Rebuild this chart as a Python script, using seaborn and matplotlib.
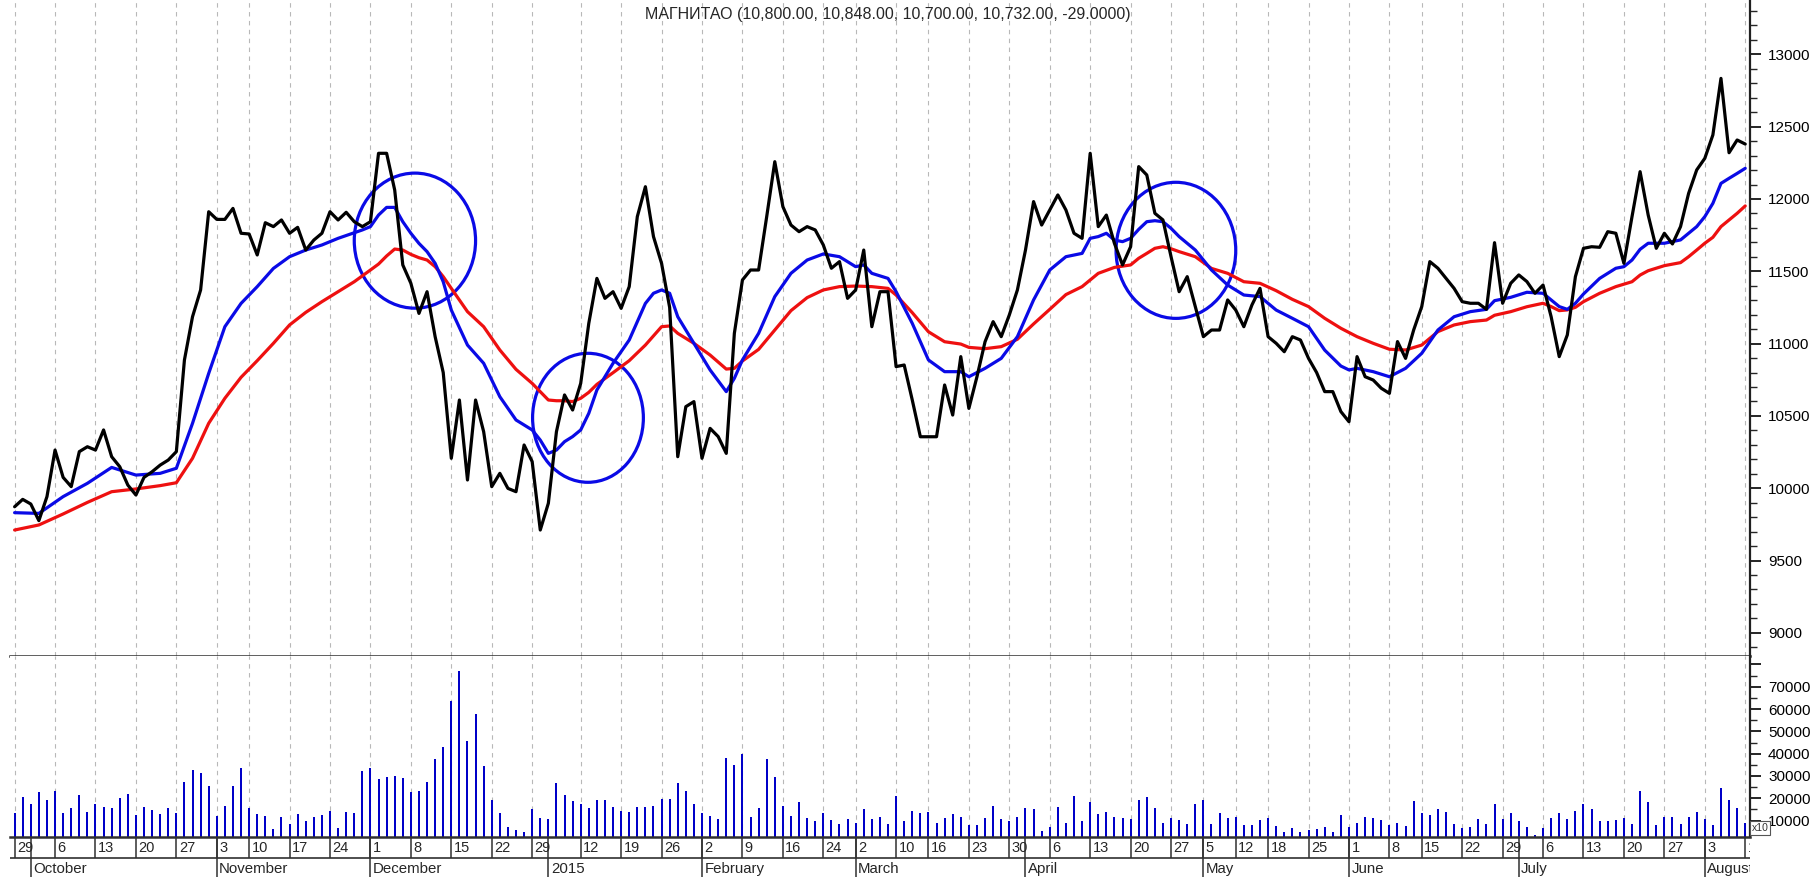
import matplotlib
matplotlib.use("Agg")
import matplotlib.pyplot as plt
from matplotlib.patches import Ellipse
from matplotlib.ticker import MultipleLocator, FuncFormatter, FixedLocator
import numpy as np
import pandas as pd
import seaborn as sns

# trading calendar (MOEX), Sep 29 2014 .. Aug 10 2015
holidays = ["2014-11-04", "2014-12-31", "2015-01-01", "2015-01-02", "2015-01-07",
            "2015-02-23", "2015-03-09", "2015-05-01", "2015-05-04", "2015-05-11",
            "2015-06-12"]
dates = pd.bdate_range("2014-09-29", "2015-08-10")
dates = dates[~dates.isin(pd.to_datetime(holidays))]

close = [9872, 9923, 9891, 9776, 9942, 10264, 10075, 10011, 10253, 10287,
         10264, 10403, 10218, 10149, 10022, 9953, 10075, 10114, 10160, 10195,
         10253, 10887, 11186, 11371, 11912, 11859, 11859, 11935, 11763, 11758,
         11613, 11836, 11809, 11855, 11763, 11804, 11647, 11716, 11763, 11912,
         11855, 11908, 11843, 11809, 11843, 12316, 12316, 12062, 11544, 11417,
         11209, 11359, 11048, 10800, 10207, 10610, 10057, 10610, 10391, 10011,
         10103, 9999, 9976, 10299, 10184, 9711, 9896, 10391, 10645, 10541,
         10725, 11140, 11451, 11313, 11359, 11244, 11394, 11878, 12085, 11740,
         11555, 11250, 10218, 10564, 10599, 10207, 10414, 10357, 10241, 11071,
         11440, 11509, 11509, 11878, 12258, 11947, 11820, 11774, 11809, 11786,
         11682, 11521, 11567, 11313, 11371, 11647, 11117, 11359, 11359, 10841,
         10852, 10610, 10356, 10356, 10356, 10714, 10506, 10910, 10552, 10771,
         11013, 11152, 11048, 11198, 11371, 11647, 11982, 11820, 11924, 12028,
         11924, 11763, 11728, 12316, 11809, 11889, 11693, 11544, 11670, 12224,
         12166, 11901, 11855, 11601, 11359, 11463, 11255, 11048, 11094, 11094,
         11302, 11232, 11117, 11267, 11382, 11048, 11002, 10944, 11048, 11025,
         10898, 10800, 10668, 10668, 10530, 10460, 10910, 10771, 10748, 10691,
         10656, 11014, 10898, 11094, 11256, 11567, 11521, 11451, 11382, 11290,
         11279, 11279, 11237, 11698, 11279, 11417, 11475, 11429, 11348, 11405,
         11186, 10910, 11060, 11463, 11659, 11670, 11666, 11774, 11763, 11555,
         11878, 12189, 11889, 11659, 11763, 11689, 11809, 12039, 12201, 12281,
         12443, 12834, 12320, 12408, 12380]

volume = [13300, 20400, 17300, 22700, 19200, 23400, 13300, 15500, 21500, 14000,
          17300, 16200, 15500, 20000, 21800, 12500, 16200, 14700, 13000, 15500,
          13500, 27400, 32700, 31200, 25600, 12200, 16700, 25600, 33700, 15500,
          12800, 12200, 6200, 11800, 8500, 12800, 10000, 11500, 12500, 14300,
          6800, 13700, 13500, 32200, 33400, 28500, 29400, 30000, 28900, 23000,
          23300, 27100, 37600, 43100, 63600, 77200, 45800, 58000, 34600, 19200,
          13500, 7000, 5800, 5000, 15000, 11000, 10600, 27000, 21500, 18900,
          17300, 15500, 19200, 19200, 16200, 14400, 14000, 16200, 16200, 16500,
          19500, 19500, 26700, 23300, 17300, 13300, 12200, 10600, 38200, 34900,
          39700, 11800, 15500, 37600, 29400, 16700, 12200, 18200, 11000, 10000,
          13500, 10300, 8500, 10600, 9100, 15000, 10600, 11500, 8500, 21200,
          10000, 14400, 13300, 14000, 9100, 11000, 12800, 11500, 7900, 8000,
          11000, 16700, 10600, 9800, 11800, 15500, 15000, 5500, 7300, 16200,
          9100, 21200, 9800, 18500, 12800, 14000, 11800, 11300, 10700, 19200,
          20400, 15500, 9100, 11000, 10300, 8300, 17300, 19200, 8500, 13300,
          11000, 11800, 8000, 8000, 10300, 11300, 7600, 4700, 6500, 5000,
          5800, 6200, 7300, 5000, 12500, 7000, 9100, 11500, 11000, 10300,
          8000, 9100, 7600, 18800, 13500, 12500, 15000, 14000, 8500, 6800,
          7000, 10600, 8500, 17400, 10600, 13300, 10000, 7300, 3500, 6800,
          11000, 13300, 10600, 14300, 17300, 15200, 10000, 10000, 10300, 11300,
          8500, 23400, 18500, 8000, 11500, 11500, 8500, 11800, 14000, 10600,
          8000, 24400, 19200, 15500, 9100]

fast_day = [0, 3, 6, 9, 12, 15, 18, 20, 22, 24, 26, 28, 30, 32, 34, 36, 38, 40, 42, 43,
            44, 45, 46, 47, 48, 49, 50, 51, 52, 53, 54, 56, 58, 60, 62, 64, 65, 66, 67, 68,
            69, 70, 71, 72, 74, 76, 78, 79, 80, 81, 82, 84, 86, 88, 89, 90, 92, 94, 96, 98,
            100, 102, 104, 105, 106, 108, 109, 111, 113, 115, 117, 118, 120, 122, 124, 126,
            128, 130, 132, 133, 134, 135, 136, 137, 138, 139, 140, 141, 142, 143, 144, 146,
            148, 150, 152, 154, 156, 158, 160, 162, 164, 165, 166, 168, 170, 172, 174, 176,
            178, 180, 182, 183, 185, 187, 189, 190, 191, 192, 193, 194, 196, 198, 199, 200,
            201, 202, 204, 206, 207, 208, 209, 210, 211, 212, 213, 214]
fast_ma = [9831, 9826, 9942, 10034, 10144, 10091, 10103, 10138, 10449, 10794, 11117,
           11278, 11394, 11520, 11601, 11647, 11682, 11728, 11767, 11786, 11809, 11889,
           11942, 11942, 11843, 11763, 11693, 11636, 11555, 11428, 11232, 10990, 10864,
           10633, 10472, 10403, 10333, 10241, 10264, 10322, 10357, 10403, 10518, 10679,
           10864, 11025, 11278, 11348, 11371, 11348, 11186, 11002, 10818, 10668, 10760,
           10887, 11071, 11325, 11486, 11578, 11620, 11601, 11532, 11544, 11486, 11451,
           11359, 11140, 10887, 10806, 10806, 10771, 10829, 10898, 11048, 11302, 11509,
           11601, 11624, 11728, 11740, 11763, 11716, 11705, 11728, 11790, 11843, 11850,
           11843, 11797, 11740, 11647, 11509, 11405, 11336, 11325, 11232, 11175, 11117,
           10955, 10845, 10818, 10829, 10806, 10771, 10829, 10933, 11094, 11186, 11221,
           11237, 11297, 11320, 11355, 11348, 11302, 11256, 11237, 11279, 11343, 11451,
           11521, 11532, 11578, 11652, 11694, 11694, 11717, 11763, 11809, 11878, 11970,
           12108, 12143, 12177, 12212]

slow_day = [0, 3, 6, 9, 12, 15, 18, 20, 22, 24, 26, 28, 30, 32, 34, 36, 38, 40, 42, 44,
            45, 46, 47, 48, 49, 50, 51, 52, 53, 54, 56, 58, 60, 62, 64, 66, 67, 68, 69, 70,
            71, 72, 74, 76, 78, 80, 81, 82, 84, 86, 88, 89, 90, 92, 94, 96, 98, 100, 102,
            104, 106, 108, 109, 111, 113, 115, 117, 118, 120, 122, 124, 126, 128, 130, 132,
            134, 136, 138, 139, 140, 141, 142, 143, 144, 146, 148, 150, 152, 154, 156, 158,
            160, 162, 164, 166, 168, 170, 172, 174, 176, 178, 180, 182, 183, 185, 187, 189,
            190, 191, 192, 193, 194, 196, 198, 200, 201, 202, 204, 206, 207, 208, 209, 210,
            211, 212, 213, 214]
slow_ma = [9711, 9746, 9822, 9902, 9976, 9995, 10018, 10038, 10207, 10449, 10622, 10767,
           10882, 11002, 11129, 11216, 11290, 11359, 11428, 11509, 11550, 11606, 11654,
           11647, 11617, 11594, 11578, 11532, 11463, 11382, 11221, 11117, 10956, 10822,
           10725, 10610, 10605, 10605, 10599, 10622, 10663, 10718, 10799, 10882, 10990,
           11117, 11122, 11071, 11002, 10921, 10824, 10829, 10880, 10960, 11094, 11228,
           11318, 11371, 11394, 11398, 11394, 11382, 11336, 11214, 11082, 11013, 10997,
           10974, 10965, 10979, 11030, 11136, 11237, 11339, 11394, 11486, 11527, 11544,
           11590, 11624, 11659, 11670, 11656, 11636, 11601, 11520, 11486, 11428, 11417,
           11366, 11306, 11256, 11175, 11106, 11048, 11002, 10961, 10956, 10990, 11083,
           11129, 11152, 11163, 11196, 11221, 11255, 11279, 11256, 11228, 11233, 11251,
           11290, 11348, 11394, 11428, 11474, 11504, 11539, 11560, 11601, 11647, 11694,
           11735, 11809, 11855, 11901, 11952]

month_names = ["October", "November", "December", "2015", "February", "March",
               "April", "May", "June", "July", "August"]
title = "МАГНИТАО (10,800.00, 10,848.00, 10,700.00, 10,732.00, -29.0000)"

# highlighted crossings: (center day, center price, width in days, height in price)
circles = [(49.5, 11712, 15.0, 934), (70.9, 10487, 13.7, 892), (143.6, 11645, 14.8, 941)]

sns.set_theme(style="white")
plt.rcParams['font.family'] = ['Liberation Sans', 'DejaVu Sans']

day = np.arange(len(dates))
weeks = dates.to_period("W")
week_start = []
for i in day:
    if i == 0 or weeks[i] != weeks[i - 1]:
        # a week that starts only a couple of sessions after the previous tick is skipped
        if week_start and i - week_start[-1] < 3:
            continue
        week_start.append(i)
month_start = [i for i in day if i > 0 and dates[i].month != dates[i - 1].month]
week_label = [str(dates[i].day) for i in week_start]

W, H = 1814, 877
fig = plt.figure(figsize=(W / 100, H / 100), dpi=100)
left, right = 10 / W, 1750 / W
ax_p = fig.add_axes([left, 1 - 655.7 / H, right - left, 655.7 / H])
ax_v = fig.add_axes([left, 1 - 836.7 / H, right - left, 181 / H])
ax_d = fig.add_axes([left, 0, right - left, 40.3 / H])

xlim = (-0.57, 214.59)
grid_kw = dict(color="#b8b8b8", linestyle=(0, (4, 4)), linewidth=0.8)

# price panel
sns.lineplot(x=slow_day, y=slow_ma, ax=ax_p, color="#ee1010", linewidth=2.3)
sns.lineplot(x=fast_day, y=fast_ma, ax=ax_p, color="#0a0ae6", linewidth=2.3)
sns.lineplot(x=day, y=close, ax=ax_p, color="black", linewidth=2.3)
for cx, cy, cw, ch in circles:
    ax_p.add_patch(Ellipse((cx, cy), cw, ch, fill=False, edgecolor="#0a0ae6", linewidth=2.3))
ax_p.set_xlim(*xlim)
ax_p.set_ylim(8842, 13376)
ax_p.yaxis.tick_right()
ax_p.yaxis.set_major_locator(MultipleLocator(500))
ax_p.yaxis.set_minor_locator(MultipleLocator(100))
ax_p.yaxis.set_major_formatter(FuncFormatter(lambda v, p: f"{int(v)}"))

# volume panel
sns.barplot(x=day, y=volume, ax=ax_v, color="#0000c8", width=0.25, errorbar=None,
            saturation=1, linewidth=0)
ax_v.set_xlim(*xlim)
ax_v.set_ylim(2800, 83900)
ax_v.yaxis.tick_right()
ax_v.yaxis.set_major_locator(MultipleLocator(10000))
ax_v.yaxis.set_minor_locator(MultipleLocator(5000))
ax_v.yaxis.set_major_formatter(
    FuncFormatter(lambda v, p: f"{int(v)}" if 10000 <= v <= 70000 else ""))

for ax in (ax_p, ax_v):
    ax.set_xlabel("")
    ax.set_ylabel("")
    ax.xaxis.set_major_locator(FixedLocator(week_start))
    ax.tick_params(axis="x", length=0, labelbottom=False)
    ax.grid(axis="x", **grid_kw)
    ax.grid(axis="y", visible=False)
    ax.set_axisbelow(True)
    ax.tick_params(axis="y", which="major", direction="out", length=8, width=1.2,
                   pad=5, labelsize=11, colors="black", right=True, left=False)
    ax.tick_params(axis="y", which="minor", direction="out", length=5, width=1.0,
                   right=True, left=False)
    for s in ("left", "top"):
        ax.spines[s].set_visible(False)
    ax.spines["right"].set_color("#202020")
    ax.spines["right"].set_linewidth(1.6)
    ax.spines["bottom"].set_color("#303030")
    ax.spines["bottom"].set_linewidth(1.8)

# date strip
ax_d.set_xlim(*xlim)
ax_d.set_ylim(0, 1)
ax_d.axis("off")
ax_d.axhline(0.47, color="#303030", linewidth=1.2)
ax_d.vlines(week_start, 0.47, 1, color="#303030", linewidth=1.1)
ax_d.vlines(month_start, 0, 1, color="#303030", linewidth=1.1)
for i, lab in zip(week_start, week_label):
    ax_d.text(i + 0.3, 0.73, lab, ha="left", va="center", fontsize=10.5, clip_on=True)
for i, lab in zip(month_start, month_names):
    ax_d.text(i + 0.3, 0.2, lab, ha="left", va="center", fontsize=10.8, clip_on=True)

fig.text(888 / W, 1 - 14 / H, title, ha="center", va="center", fontsize=11.5)
fig.text(1752 / W, 1 - 828 / H, "x10", ha="left", va="center", fontsize=7.5, color="#333333",
         bbox=dict(boxstyle="square,pad=0.15", fc="white", ec="#555555", lw=0.8))

fig.savefig("out.png", dpi=100, facecolor="white")
